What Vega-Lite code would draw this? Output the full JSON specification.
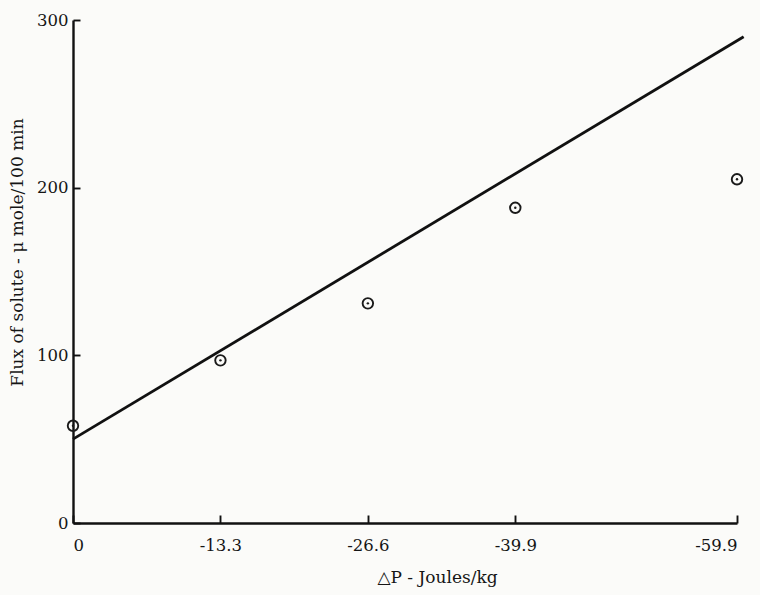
{
  "$schema": "https://vega.github.io/schema/vega-lite/v6.json",
  "width": 664,
  "height": 503,
  "autosize": {"type": "none"},
  "padding": {"left": 73, "top": 20, "right": 23, "bottom": 72},
  "background": "#fbfbf9",
  "config": {
    "view": {"stroke": null},
    "font": "DejaVu Serif",
    "axis": {
      "grid": false,
      "domainColor": "#111111",
      "domainWidth": 2.4,
      "tickColor": "#111111",
      "tickWidth": 1.9,
      "labelColor": "#151515",
      "labelFont": "DejaVu Serif",
      "labelFontSize": 16.5,
      "titleColor": "#151515",
      "titleFont": "DejaVu Serif",
      "titleFontSize": 17,
      "titleFontWeight": "normal"
    }
  },
  "datasets": {
    "measured": [
      {"dp": 0, "flux": 58},
      {"dp": -13.3, "flux": 97},
      {"dp": -26.6, "flux": 131},
      {"dp": -39.9, "flux": 188},
      {"dp": -59.9, "flux": 205}
    ],
    "fitted": [
      {"dp": 0, "flux": 50},
      {"dp": -60.5, "flux": 290}
    ]
  },
  "encoding": {
    "x": {
      "field": "dp",
      "type": "quantitative",
      "scale": {"domain": [0, -59.9], "nice": false, "zero": false},
      "axis": {
        "values": [0, -13.3, -26.6, -39.9, -59.9],
        "labelExpr": "datum.value === 0 ? '0' : '-' + format(-datum.value, '.1f')",
        "tickSize": -8,
        "labelPadding": 22,
        "title": "△P - Joules/kg",
        "titleX": 364,
        "titleY": 54,
        "titleAlign": "center",
        "titleBaseline": "middle"
      }
    },
    "y": {
      "field": "flux",
      "type": "quantitative",
      "scale": {"domain": [0, 300], "nice": false},
      "axis": {
        "values": [0, 100, 200, 300],
        "tickSize": -7,
        "labelPadding": 12,
        "title": "Flux of solute - μ mole/100 min",
        "titleX": -56,
        "titleY": 232,
        "titleAngle": -90,
        "titleAlign": "center",
        "titleBaseline": "middle"
      }
    }
  },
  "layer": [
    {
      "data": {"name": "fitted"},
      "mark": {"type": "line", "color": "#111111", "strokeWidth": 2.8}
    },
    {
      "data": {"name": "measured"},
      "mark": {"type": "point", "shape": "circle", "filled": false, "size": 110, "strokeWidth": 1.9, "color": "#1a1a1a", "opacity": 1}
    },
    {
      "data": {"name": "measured"},
      "mark": {"type": "point", "shape": "circle", "filled": true, "size": 6, "color": "#1a1a1a", "opacity": 1}
    }
  ]
}
